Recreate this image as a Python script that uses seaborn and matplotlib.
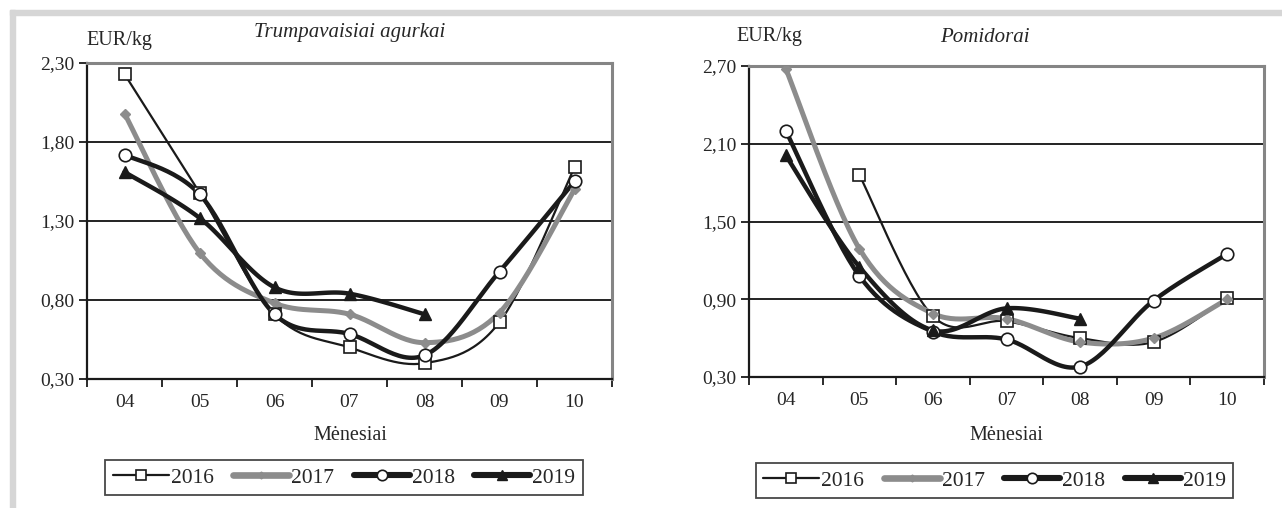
import numpy as np
import pandas as pd
import matplotlib
matplotlib.use("Agg")
import matplotlib.pyplot as plt
import seaborn as sns
from matplotlib.lines import Line2D
from matplotlib.patches import Rectangle

sns.set_style("white")
plt.rcParams['font.family'] = ['Liberation Serif', 'DejaVu Serif']

months = ["04", "05", "06", "07", "08", "09", "10"]
years = ["2016", "2017", "2018", "2019"]

# Trumpavaisiai agurkai, EUR/kg
cuc_2016 = [2.23, 1.48, 0.71, 0.50, 0.40, 0.66, 1.64]
cuc_2017 = [1.98, 1.10, 0.78, 0.71, 0.53, 0.72, 1.50]
cuc_2018 = [1.72, 1.47, 0.71, 0.585, 0.45, 0.98, 1.55]
cuc_2019 = [1.61, 1.32, 0.88, 0.84, 0.71, np.nan, np.nan]

# Pomidorai, EUR/kg
tom_2016 = [np.nan, 1.86, 0.77, 0.73, 0.60, 0.57, 0.91]
tom_2017 = [2.68, 1.29, 0.79, 0.75, 0.57, 0.60, 0.90]
tom_2018 = [2.20, 1.08, 0.65, 0.59, 0.38, 0.89, 1.25]
tom_2019 = [2.01, 1.15, 0.66, 0.83, 0.75, np.nan, np.nan]

styles = {
    "2016": dict(color="#1a1a1a", lw=1.6, marker="s", ms=8.5, mfc="white", mec="#1a1a1a", mew=1.2),
    "2017": dict(color="#8c8c8c", lw=3.6, marker="D", ms=5, mfc="#8c8c8c", mec="#8c8c8c", mew=1),
    "2018": dict(color="#1a1a1a", lw=3.2, marker="o", ms=9, mfc="white", mec="#1a1a1a", mew=1.2),
    "2019": dict(color="#1a1a1a", lw=3.2, marker="^", ms=9, mfc="#1a1a1a", mec="#1a1a1a", mew=1),
}

W, H = 1282, 508


def smooth(xs, ys, n=30):
    # Catmull-Rom curve through the points (like Excel smoothed lines)
    px, py = [], []
    m = len(xs)
    for i in range(m - 1):
        p0 = np.array([xs[max(i - 1, 0)], ys[max(i - 1, 0)]])
        p1 = np.array([xs[i], ys[i]])
        p2 = np.array([xs[i + 1], ys[i + 1]])
        p3 = np.array([xs[min(i + 2, m - 1)], ys[min(i + 2, m - 1)]])
        c1 = p1 + (p2 - p0) / 6.0
        c2 = p2 - (p3 - p1) / 6.0
        t = np.linspace(0, 1, n)[:, None]
        pts = (1 - t) ** 3 * p1 + 3 * (1 - t) ** 2 * t * c1 + 3 * (1 - t) * t ** 2 * c2 + t ** 3 * p2
        px.extend(pts[:, 0])
        py.extend(pts[:, 1])
    return px, py


def draw(ax, series, yticks):
    for yr, vals in zip(years, series):
        st = styles[yr]
        vals = np.array(vals, dtype=float)
        idx = np.arange(len(vals))
        ok = ~np.isnan(vals)
        sx, sy = smooth(idx[ok], vals[ok])
        df = pd.DataFrame({"x": sx, "y": sy})
        sns.lineplot(data=df, x="x", y="y", ax=ax, color=st["color"], lw=st["lw"],
                     sort=False, estimator=None, zorder=3)
        ax.plot(idx[ok], vals[ok], ls="none", marker=st["marker"], ms=st["ms"],
                mfc=st["mfc"], mec=st["mec"], mew=st["mew"], zorder=4)
    ax.set_xlim(-0.5, len(months) - 0.5)
    ax.set_ylim(yticks[0], yticks[-1])
    ax.set_yticks(yticks)
    ax.set_yticklabels([("%.2f" % v).replace(".", ",") for v in yticks], fontsize=14)
    ax.set_xticks(np.arange(len(months) + 1) - 0.5)
    ax.set_xticklabels([])
    ax.set_xticks(np.arange(len(months)), minor=True)
    ax.set_xticklabels(months, minor=True, fontsize=14)
    ax.tick_params(axis="x", which="major", length=6, width=1.3, color="#1a1a1a", direction="out", bottom=True)
    ax.tick_params(axis="x", which="minor", length=0, pad=11)
    ax.tick_params(axis="y", length=6, width=1.3, color="#1a1a1a", direction="out", left=True, pad=3)
    for v in yticks[1:-1]:
        ax.axhline(v, color="#111111", lw=1.3, zorder=1)
    for s in ["left", "bottom"]:
        ax.spines[s].set_color("#1a1a1a")
        ax.spines[s].set_linewidth(1.6)
    for s in ["top", "right"]:
        ax.spines[s].set_color("#858585")
        ax.spines[s].set_linewidth(2.2)
    ax.set_xlabel("")
    ax.set_ylabel("")


fig = plt.figure(figsize=(W / 100, H / 100), dpi=100)
ax1 = fig.add_axes([87 / W, 1 - 379 / H, 525 / W, 316 / H])
ax2 = fig.add_axes([749 / W, 1 - 377 / H, 515 / W, 311 / H])

draw(ax1, [cuc_2016, cuc_2017, cuc_2018, cuc_2019], [0.30, 0.80, 1.30, 1.80, 2.30])
draw(ax2, [tom_2016, tom_2017, tom_2018, tom_2019], [0.30, 0.90, 1.50, 2.10, 2.70])

# texts in figure pixels
fig.text(86 / W, 1 - 41 / H, "EUR/kg", fontsize=14.5, ha="left", va="center")
fig.text(350 / W, 1 - 33 / H, "Trumpavaisiai agurkai", fontsize=15, style="italic", ha="center", va="center")
fig.text(736 / W, 1 - 37 / H, "EUR/kg", fontsize=14.5, ha="left", va="center")
fig.text(985 / W, 1 - 37 / H, "Pomidorai", fontsize=15, style="italic", ha="center", va="center")
fig.text(350 / W, 1 - 435 / H, "Mėnesiai", fontsize=14.5, ha="center", va="center")
fig.text(1006 / W, 1 - 435 / H, "Mėnesiai", fontsize=14.5, ha="center", va="center")

handles = []
for yr in years:
    st = styles[yr]
    lw = st["lw"] if yr == "2016" else st["lw"] + 1.2
    handles.append(Line2D([], [], color=st["color"], lw=lw, marker=st["marker"], ms=st["ms"] - 1.5,
                          mfc=st["mfc"], mec=st["mec"], mew=st["mew"]))

for box in [(101, 457, 587, 498), (756, 459, 1233, 502)]:
    cx = (box[0] + box[2]) / 2 / W
    cy = 1 - (box[1] + box[3]) / 2 / H
    leg = fig.legend(handles, years, loc="center", bbox_to_anchor=(cx, cy), ncol=4,
                     fontsize=15.5, frameon=True, fancybox=False, handlelength=2.6,
                     handletextpad=0.1, columnspacing=0.9, borderpad=0.35)
    leg.get_frame().set_edgecolor("#1a1a1a")
    leg.get_frame().set_linewidth(1.3)

# light grey frame of the page
fig.patches.append(Rectangle((10 / W, 1 - 15 / H), 1 - 10 / W, 5 / H,
                             transform=fig.transFigure, color="#d6d6d6", zorder=0))
fig.patches.append(Rectangle((10 / W, 0), 5 / W, 1 - 10 / H,
                             transform=fig.transFigure, color="#d6d6d6", zorder=0))

fig.savefig("out.png", dpi=100)
